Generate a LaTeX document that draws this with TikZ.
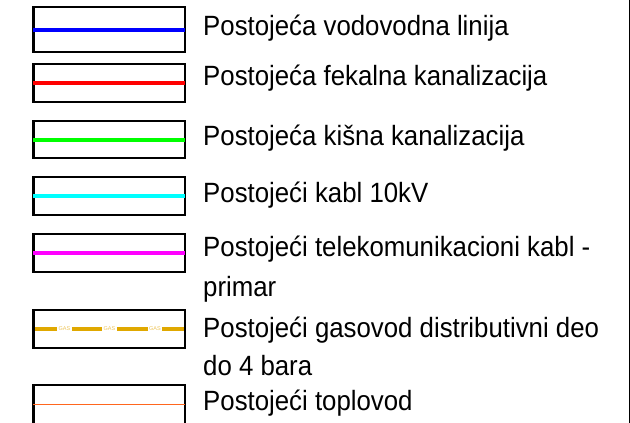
\documentclass[tikz,border=0pt]{standalone}
\usepackage{fontspec}
\setmainfont{Liberation Sans}
\usetikzlibrary{calc}
\definecolor{gasgold}{RGB}{224,168,0}
\definecolor{gastext}{RGB}{236,196,90}
\definecolor{heatorange}{RGB}{255,102,30}
\definecolor{pipeblue}{RGB}{0,0,255}
\definecolor{pipered}{RGB}{255,0,0}
\definecolor{pipegreen}{RGB}{0,255,0}
\definecolor{pipecyan}{RGB}{0,255,255}
\definecolor{pipemagenta}{RGB}{255,0,255}
\begin{document}
\begin{tikzpicture}[x=1pt,y=-1pt,
  keybox/.style={draw=black, line width=2.4pt, inner sep=0pt, minimum width=151.5pt},
  netline/.style={line width=4pt, shorten <=1.2pt, shorten >=1.2pt},
  lbl/.style={anchor=base west, inner sep=0pt, font=\fontsize{25.8}{25.8}\selectfont},
  gaslbl/.style={inner sep=0pt, text=gastext, font=\fontsize{5.5}{5.5}\selectfont}]
\useasboundingbox (0,0) rectangle (630,423);
\clip (0,0) rectangle (630,423);
\newcommand{\tallcap}[1]{\scalebox{1}[1.08]{#1}}

% legend boxes
\node[keybox, minimum height=45.5pt] (b1) at (109.2,29.5) {};
\node[keybox, minimum height=38pt]   (b2) at (109.2,83)   {};
\node[keybox, minimum height=37.5pt] (b3) at (109.2,139.5) {};
\node[keybox, minimum height=38pt]   (b4) at (109.2,196)  {};
\node[keybox, minimum height=38pt]   (b5) at (109.2,253)  {};
\node[keybox, minimum height=38pt]   (b6) at (109.2,329)  {};
\node[keybox, minimum height=39pt]   (b7) at (109.2,404.5) {};

% network lines
\draw[netline, pipeblue]    (b1.west) -- (b1.east);
\draw[netline, pipered]     (b2.west) -- (b2.east);
\draw[netline, pipegreen]   (b3.west) -- (b3.east);
\draw[netline, pipecyan]    (b4.west) -- (b4.east);
\draw[netline, pipemagenta] (b5.west) -- (b5.east);
\draw[heatorange, line width=1.5pt, shorten <=1.2pt, shorten >=1.2pt] (b7.west) -- (b7.east);

% gas line: dashes with GAS marks in the gaps
\coordinate (g0) at (35,328.5);
\coordinate (g1) at (57,328.5);
\coordinate (g2) at (72,328.5);
\coordinate (g3) at (102,328.5);
\coordinate (g4) at (117,328.5);
\coordinate (g5) at (148,328.5);
\coordinate (g6) at (162,328.5);
\coordinate (g7) at (184,328.5);
\draw[gasgold, line width=4pt] (g0) -- (g1) (g2) -- (g3) (g4) -- (g5) (g6) -- (g7);
\node[gaslbl] (gas1) at ($(g1)!0.5!(g2)$) {GAS};
\node[gaslbl] (gas2) at ($(g3)!0.5!(g4)$) {GAS};
\node[gaslbl] (gas3) at ($(g5)!0.5!(g6)$) {GAS};

% labels
\node[lbl] (t1)  at (203,35)  {\tallcap{Postojeća vodovodna linija}};
\node[lbl] (t2)  at (203,85)  {\tallcap{Postojeća fekalna kanalizacija}};
\node[lbl] (t3)  at (203,145) {\tallcap{Postojeća kišna kanalizacija}};
\node[lbl] (t4)  at (203,202) {\tallcap{Postojeći kabl 10kV}};
\node[lbl] (t5)  at (203,256) {\tallcap{Postojeći telekomunikacioni kabl -}};
\node[lbl] (t5b) at (203,296) {\tallcap{primar}};
\node[lbl] (t6)  at (203,337) {\tallcap{Postojeći gasovod distributivni deo}};
\node[lbl] (t6b) at (203,375) {\tallcap{do 4 bara}};
\node[lbl] (t7)  at (203,410) {\tallcap{Postojeći toplovod}};

% right frame edge
\coordinate (rt) at (629.3,0);
\coordinate (rb) at (629.3,423);
\draw[black, line width=1.2pt] (rt) -- (rb);
\end{tikzpicture}
\end{document}
